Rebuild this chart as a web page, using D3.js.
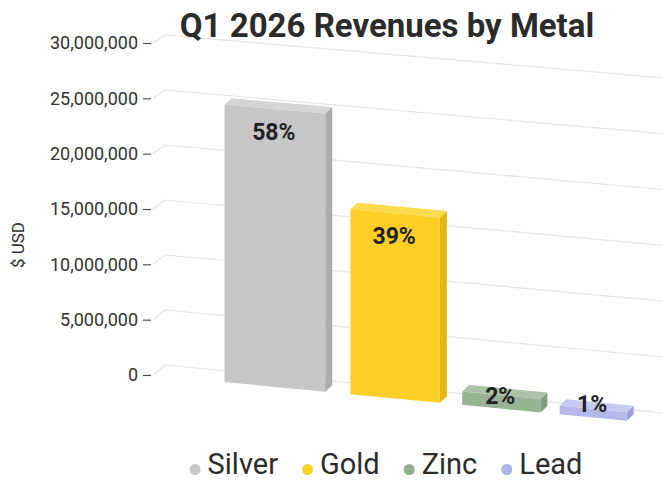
<!DOCTYPE html>
<html>
<head>
<meta charset="utf-8">
<script src="https://cdn.jsdelivr.net/npm/d3@7"></script>
<style>
  html, body { margin: 0; padding: 0; background: #ffffff; }
  svg { display: block; font-family: Roboto, "Open Sans", sans-serif; }
</style>
</head>
<body>
<svg id="chart" width="663" height="481"></svg>
<script>
// ---- data ----
const categories = ["Silver", "Gold", "Zinc", "Lead"];
const revenues = [25000000, 16600000, 1200000, 750000];
const shareLabels = ["58%", "39%", "2%", "1%"];
const yTickValues = [0, 5000000, 10000000, 15000000, 20000000, 25000000, 30000000];
const titleText = "Q1 2026 Revenues by Metal";
const yAxisTitle = "$ USD";

// ---- styles ----
const faceColors = {
  Silver: { front: "#c6c6c6", top: "#d5d5d5", side: "#acacac", dot: "#c8c8c8" },
  Gold:   { front: "#fdcf26", top: "#fedb4c", side: "#e6b616", dot: "#fdd02a" },
  Zinc:   { front: "#97b393", top: "#aac3a6", side: "#7f9b7b", dot: "#8fae8b" },
  Lead:   { front: "#b4b7e7", top: "#c6c9f0", side: "#9ea1d4", dot: "#b0b3e3" }
};

const svg = d3.select("#chart");
const W = 663;

// ---- scales / projection ----
const AXIS_X = 151;
const vMax = 30000000;
const y = d3.scaleLinear().domain([0, vMax]).range([375, 43]);
const band = d3.scaleBand().domain(categories).range([0, 4]).paddingInner(0.21).paddingOuter(0.105);
// perspective-like horizontal warp of the category axis
const warp = u => 210.5 + 134.5 * u - 7.1 * u * u;
// front plane (bars) and back wall (grid)
function frontY(X, v) { const t = v / vMax; return y(v) + 0.096 * (X - AXIS_X) - t * 0.01 * (X - AXIS_X); }
const BACK_X = 165;
function backY(X, v) { const t = v / vMax; return 365 + 0.096 * (X - BACK_X) - t * (330 + 0.01 * (X - BACK_X)); }
const depth = { dx: 7, dy: -6.5 };

// ---- grid on back wall ----
const gridG = svg.append("g");
yTickValues.forEach(v => {
  gridG.append("path")
    .attr("d", d3.line()([[AXIS_X + 2, y(v)], [BACK_X, backY(BACK_X, v)], [W, backY(W, v)]]))
    .attr("fill", "none")
    .attr("stroke", "#e5e5e5")
    .attr("stroke-width", 1.2);
});

// ---- y axis ----
const axisG = svg.append("g")
  .attr("transform", `translate(${AXIS_X},0)`)
  .call(d3.axisLeft(y).tickValues(yTickValues).tickFormat(d3.format(",")).tickSize(8).tickPadding(5));
axisG.select(".domain").remove();
axisG.selectAll(".tick line").attr("stroke", "#444").attr("stroke-width", 1.1);
axisG.selectAll(".tick text")
  .attr("fill", "#333")
  .style("font-size", "18px")
  .style("font-family", "Roboto, sans-serif");

svg.append("text")
  .attr("transform", "translate(24,245) rotate(-90)")
  .attr("text-anchor", "middle")
  .attr("fill", "#333")
  .style("font-size", "17px")
  .text(yAxisTitle);

// ---- bars ----
const poly = d3.line();
const barsG = svg.append("g");
categories.forEach((c, i) => {
  const v = revenues[i];
  const X0 = warp(band(c));
  const X1 = warp(band(c) + band.bandwidth());
  const fbl = [X0, frontY(X0, 0)], fbr = [X1, frontY(X1, 0)];
  const ftl = [X0, frontY(X0, v)], ftr = [X1, frontY(X1, v)];
  const sh = p => [p[0] + depth.dx, p[1] + depth.dy];
  const col = faceColors[c];
  const g = barsG.append("g");
  g.append("path").attr("d", poly([ftr, fbr, sh(fbr), sh(ftr)]) + "Z").attr("fill", col.side);
  g.append("path").attr("d", poly([ftl, ftr, sh(ftr), sh(ftl)]) + "Z").attr("fill", col.top);
  g.append("path").attr("d", poly([fbl, fbr, ftr, ftl]) + "Z").attr("fill", col.front);
  const cx = (X0 + X1) / 2;
  const base = Math.min(frontY(cx, v) + 31, frontY(cx, 0) - 5);
  g.append("text")
    .attr("x", cx - 1)
    .attr("y", base)
    .attr("text-anchor", "middle")
    .attr("fill", "#222")
    .style("font-size", "23px")
    .style("font-weight", "bold")
    .text(shareLabels[i]);
});

// ---- title ----
svg.append("text")
  .attr("x", 387)
  .attr("y", 37)
  .attr("text-anchor", "middle")
  .attr("fill", "#2b2b2b")
  .style("font-size", "33px")
  .style("font-weight", "bold")
  .text(titleText);

// ---- legend ----
const legendG = svg.append("g");
let lx = 0;
categories.forEach((c, i) => {
  const item = legendG.append("g");
  item.append("circle").attr("cx", lx + 5.5).attr("cy", -4.5).attr("r", 5.5).attr("fill", faceColors[c].dot);
  const t = item.append("text")
    .attr("x", lx + 18)
    .attr("y", 0)
    .attr("fill", "#2b2b2b")
    .style("font-size", "29px")
    .text(c);
  const w = t.node().getComputedTextLength();
  lx = lx + 18 + w + 24;
});
const legendWidth = lx - 24;
legendG.attr("transform", `translate(${386 - legendWidth / 2},474)`);
</script>
</body>
</html>
